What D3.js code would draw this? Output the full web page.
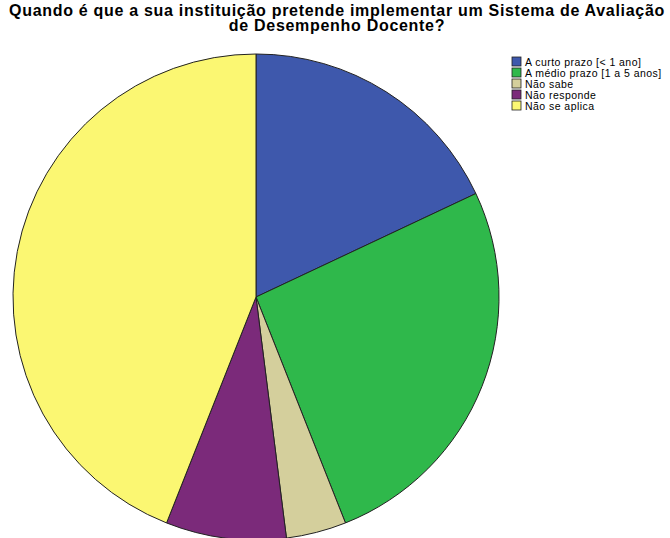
<!DOCTYPE html>
<html>
<head>
<meta charset="utf-8">
<script src="https://cdn.jsdelivr.net/npm/d3@7.9.0/dist/d3.min.js"></script>
<style>
  body { margin: 0; background: #fff; }
  text { font-family: "Liberation Sans", Arial, sans-serif; }
</style>
</head>
<body>
<div id="chart"></div>
<script>
const categories = ["A curto prazo [< 1 ano]", "A médio prazo [1 a 5 anos]", "Não sabe", "Não responde", "Não se aplica"];
const counts = [9, 13, 2, 4, 22];
const colors = ["#3e58ac", "#2fb84b", "#d4cf9c", "#7b2a7a", "#fbf772"];
const titleLines = ["Quando é que a sua instituição pretende implementar um Sistema de Avaliação", "de Desempenho Docente?"];

const width = 670, height = 538;
const cx = 256, cy = 297, radius = 243;

const svg = d3.select("#chart")
    .append("svg")
    .attr("width", width)
    .attr("height", height);

// Title
svg.selectAll("text.title")
    .data(titleLines)
    .enter()
    .append("text")
    .attr("class", "title")
    .attr("x", 337)
    .attr("y", (d, i) => 16 + i * 15)
    .attr("text-anchor", "middle")
    .style("font-size", "16px")
    .style("letter-spacing", "0.7px")
    .style("font-weight", "bold")
    .text(d => d);

const data = categories.map((c, i) => ({ label: c, value: counts[i], color: colors[i] }));

const pie = d3.pie()
    .value(d => d.value)
    .sort(null);

const arc = d3.arc()
    .innerRadius(0)
    .outerRadius(radius);

const g = svg.append("g")
    .attr("transform", `translate(${cx},${cy})`);

g.selectAll("path")
    .data(pie(data))
    .enter()
    .append("path")
    .attr("d", arc)
    .style("fill", d => d.data.color)
    .style("stroke", "#222")
    .style("stroke-width", 1);

// Legend
const legend = svg.append("g")
    .attr("transform", "translate(512,57)");

const items = legend.selectAll("g")
    .data(data)
    .enter()
    .append("g")
    .attr("transform", (d, i) => `translate(0,${i * 11})`);

items.append("rect")
    .attr("width", 9)
    .attr("height", 9)
    .style("fill", d => d.color)
    .style("stroke", "#222")
    .style("stroke-width", 0.8);

items.append("text")
    .attr("x", 13)
    .attr("y", 8.5)
    .style("font-size", "10.5px")
    .style("letter-spacing", "0.45px")
    .text(d => d.label);
</script>
</body>
</html>
